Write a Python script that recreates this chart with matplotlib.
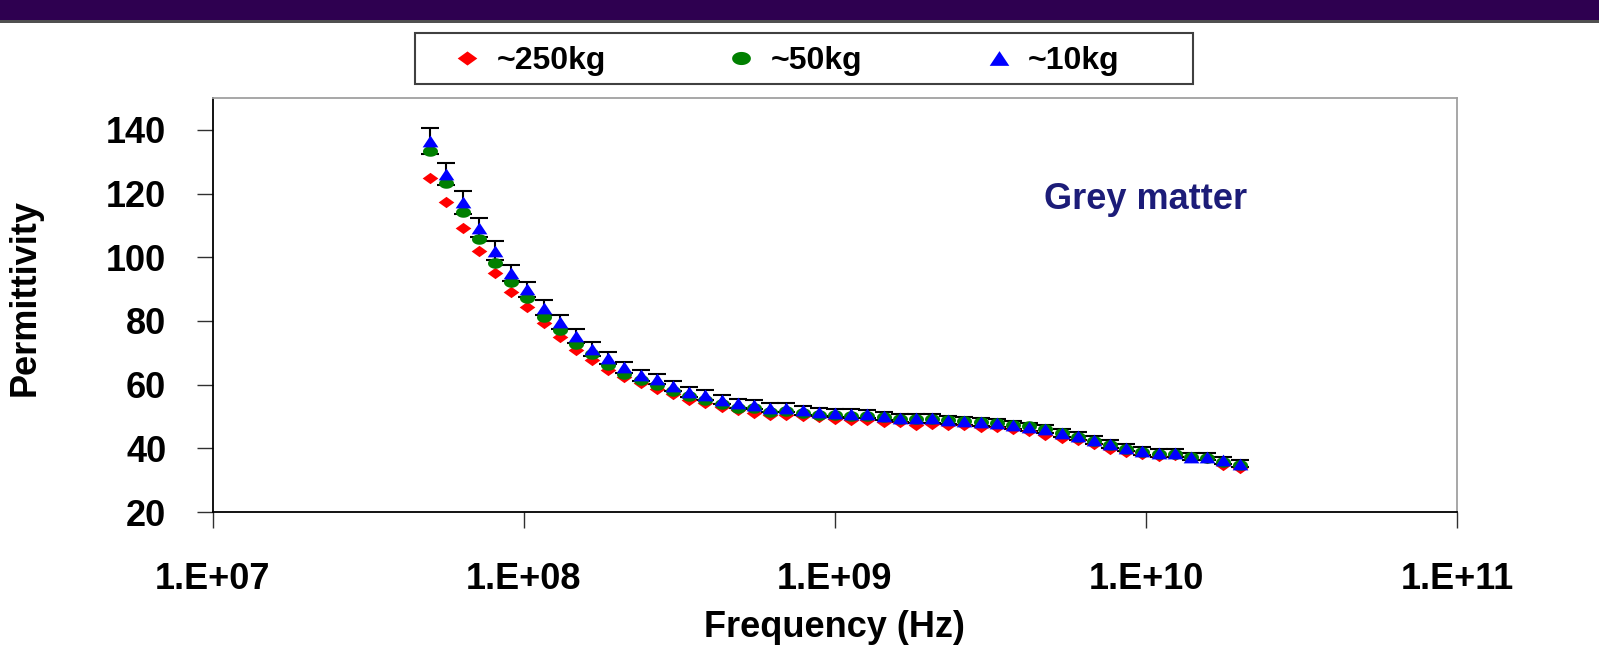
import numpy as np
import matplotlib
matplotlib.use('Agg')
import matplotlib.pyplot as plt
from matplotlib.path import Path
from matplotlib.patches import Rectangle
from matplotlib.ticker import FixedLocator, FixedFormatter, NullLocator

# ---------------- data ----------------
freq_hz = [5.000e7, 5.637e7, 6.355e7, 7.165e7, 8.077e7, 9.104e7, 1.026e8, 1.157e8, 1.304e8, 1.470e8,
           1.657e8, 1.868e8, 2.106e8, 2.374e8, 2.677e8, 3.017e8, 3.401e8, 3.835e8, 4.323e8, 4.873e8,
           5.494e8, 6.194e8, 6.983e8, 7.872e8, 8.875e8, 1.000e9, 1.127e9, 1.271e9, 1.433e9, 1.615e9,
           1.821e9, 2.053e9, 2.314e9, 2.609e9, 2.941e9, 3.314e9, 3.737e9, 4.213e9, 4.750e9, 5.355e9,
           6.034e9, 6.802e9, 7.669e9, 8.646e9, 9.745e9, 1.099e10, 1.238e10, 1.396e10, 1.574e10, 1.774e10,
           2.000e10]

perm_250kg = [125.0, 117.3, 109.2, 102.1, 94.9, 89.1, 84.4, 79.3, 74.8, 70.9,
              67.6, 64.7, 62.3, 60.4, 58.7, 56.9, 55.2, 54.3, 52.9, 51.9,
              51.2, 50.6, 50.6, 50.1, 49.8, 49.3, 48.8, 48.8, 48.2, 48.2,
              47.4, 47.7, 47.2, 47.2, 46.7, 46.8, 46.2, 45.4, 44.1, 43.2,
              42.5, 41.2, 39.9, 38.8, 38.3, 37.6, 37.8, 37.2, 36.8, 34.7,
              33.7]

perm_50kg = [133.4, 123.3, 114.1, 105.8, 98.2, 92.3, 87.1, 81.3, 77.2, 72.9,
             69.6, 66.3, 63.4, 61.3, 59.8, 58.1, 56.3, 55.3, 54.0, 52.8,
             52.7, 51.5, 51.6, 51.0, 50.6, 50.5, 50.2, 50.1, 49.7, 49.3,
             49.1, 49.2, 48.8, 48.6, 48.4, 48.0, 47.4, 46.9, 46.0, 44.8,
             43.6, 42.4, 41.1, 39.9, 38.9, 38.3, 38.3, 37.2, 36.9, 35.8,
             34.7]

perm_10kg = [136.5, 126.1, 117.2, 109.2, 102.1, 95.1, 89.9, 84.2, 79.7, 75.3,
             71.2, 68.3, 65.5, 62.9, 61.8, 59.5, 57.7, 56.7, 55.3, 54.1,
             53.7, 52.7, 52.7, 51.9, 51.4, 51.2, 50.9, 50.7, 50.2, 49.6,
             49.4, 49.4, 49.0, 48.6, 48.3, 47.9, 47.3, 46.8, 46.0, 44.9,
             43.8, 42.6, 41.3, 40.2, 39.1, 38.5, 38.5, 37.4, 37.3, 36.2,
             35.1]

err_10kg = [4.2, 3.5, 3.5, 3.0, 2.9, 2.5, 2.4, 2.3, 2.2, 2.2,
            2.1, 1.8, 1.7, 1.7, 1.6, 1.6, 1.5, 1.5, 1.5, 1.4,
            1.4, 1.4, 1.4, 1.3, 1.3, 1.3, 1.3, 1.3, 1.3, 1.3,
            1.3, 1.3, 1.3, 1.3, 1.3, 1.3, 1.3, 1.3, 1.3, 1.2,
            1.2, 1.2, 1.2, 1.2, 1.2, 1.2, 1.2, 1.1, 1.1, 1.1,
            1.1]

series_labels = ['~250kg', '~50kg', '~10kg']
x_ticks = [1e7, 1e8, 1e9, 1e10, 1e11]
x_tick_labels = ['1.E+07', '1.E+08', '1.E+09', '1.E+10', '1.E+11']
y_ticks = [20, 40, 60, 80, 100, 120, 140]
y_tick_labels = ['20', '40', '60', '80', '100', '120', '140']
x_label = 'Frequency (Hz)'
y_label = 'Permittivity'
annotation = 'Grey matter'

# ---------------- style ----------------
plt.rcParams['font.family'] = ['Liberation Sans', 'DejaVu Sans']
plt.rcParams['font.weight'] = 'bold'

W, H = 1599, 650
fig = plt.figure(figsize=(W / 100, H / 100), dpi=100)
fig.patch.set_facecolor('white')

# top banner
fig.patches.append(Rectangle((0, 1 - 20 / H), 1, 20 / H, transform=fig.transFigure,
                             facecolor='#2e0050', edgecolor='none', zorder=0))
fig.patches.append(Rectangle((0, 1 - 23 / H), 1, 3 / H, transform=fig.transFigure,
                             facecolor='#505050', edgecolor='none', zorder=0))

ax_left, ax_right, ax_top, ax_bottom = 212.8, 1457.0, 98.0, 512.0
ax = fig.add_axes([ax_left / W, 1 - ax_bottom / H, (ax_right - ax_left) / W, (ax_bottom - ax_top) / H])
ax.set_xscale('log')
ax.set_xlim(1e7, 1e11)
ax.set_ylim(20, 150)

# custom (horizontally wide) markers
diamond = Path([(-1, 0), (0, 0.72), (1, 0), (0, -0.72), (-1, 0)], closed=True)
triangle = Path([(-1, -0.75), (0, 0.75), (1, -0.75), (-1, -0.75)], closed=True)
t = np.linspace(0, 2 * np.pi, 61)
ellipse = Path(np.column_stack([np.cos(t), 0.7 * np.sin(t)]), closed=True)

ax.errorbar(freq_hz, perm_10kg, yerr=err_10kg, fmt='none', ecolor='black',
            elinewidth=1.5, capsize=6.5, capthick=1.5, zorder=1.5)
h1, = ax.plot(freq_hz, perm_250kg, linestyle='none', marker=diamond, ms=11.3,
              color='#ff0000', mec='#ff0000', mew=0, zorder=2, label=series_labels[0])
h2, = ax.plot(freq_hz, perm_50kg, linestyle='none', marker=ellipse, ms=10.8,
              color='#008000', mec='#008000', mew=0, zorder=3, label=series_labels[1])
h3, = ax.plot(freq_hz, perm_10kg, linestyle='none', marker=triangle, ms=11.3,
              color='#0000ff', mec='#0000ff', mew=0, zorder=4, label=series_labels[2])

# spines
for s in ['left', 'bottom']:
    ax.spines[s].set_color('black')
    ax.spines[s].set_linewidth(1.3)
for s in ['top', 'right']:
    ax.spines[s].set_color('#a0a0a0')
    ax.spines[s].set_linewidth(1.3)

ax.xaxis.set_major_locator(FixedLocator(x_ticks))
ax.xaxis.set_major_formatter(FixedFormatter(x_tick_labels))
ax.xaxis.set_minor_locator(NullLocator())
ax.yaxis.set_major_locator(FixedLocator(y_ticks))
ax.yaxis.set_major_formatter(FixedFormatter(y_tick_labels))
ax.tick_params(axis='both', which='major', direction='out', length=11.5, width=1.0,
               color='#303030', labelsize=26, labelcolor='black')
ax.tick_params(axis='y', pad=22)
ax.tick_params(axis='x', pad=24.5)
for lab in ax.get_xticklabels() + ax.get_yticklabels():
    lab.set_fontweight('bold')

ax.set_xlabel(x_label, fontsize=26, fontweight='bold')
ax.xaxis.set_label_coords(0.5, -0.237)
ax.set_ylabel(y_label, fontsize=26, fontweight='bold')
ax.yaxis.set_label_coords(-0.137, 0.517)

ax.text(0.75, 0.756, annotation, transform=ax.transAxes, ha='center', va='center',
        fontsize=26, fontweight='bold', color='#1c1c78')

# legend box (frame drawn at the reference position)
box_l, box_r, box_t, box_b = 415, 1193, 33, 84
fig.patches.append(Rectangle((box_l / W, 1 - box_b / H), (box_r - box_l) / W, (box_b - box_t) / H,
                             transform=fig.transFigure, facecolor='white',
                             edgecolor='#404040', linewidth=1.5, zorder=1))
leg = fig.legend(handles=[h1, h2, h3], labels=series_labels, loc='center left',
                 bbox_to_anchor=(449 / W, 1 - 61 / H),
                 ncol=3, numpoints=1, frameon=False, markerscale=1.25,
                 prop={'weight': 'bold', 'size': 23}, handlelength=1.1,
                 handletextpad=0.38, columnspacing=3.7, borderpad=0,
                 borderaxespad=0)
leg.set_zorder(5)

fig.savefig('out.png', dpi=100, facecolor='white')
